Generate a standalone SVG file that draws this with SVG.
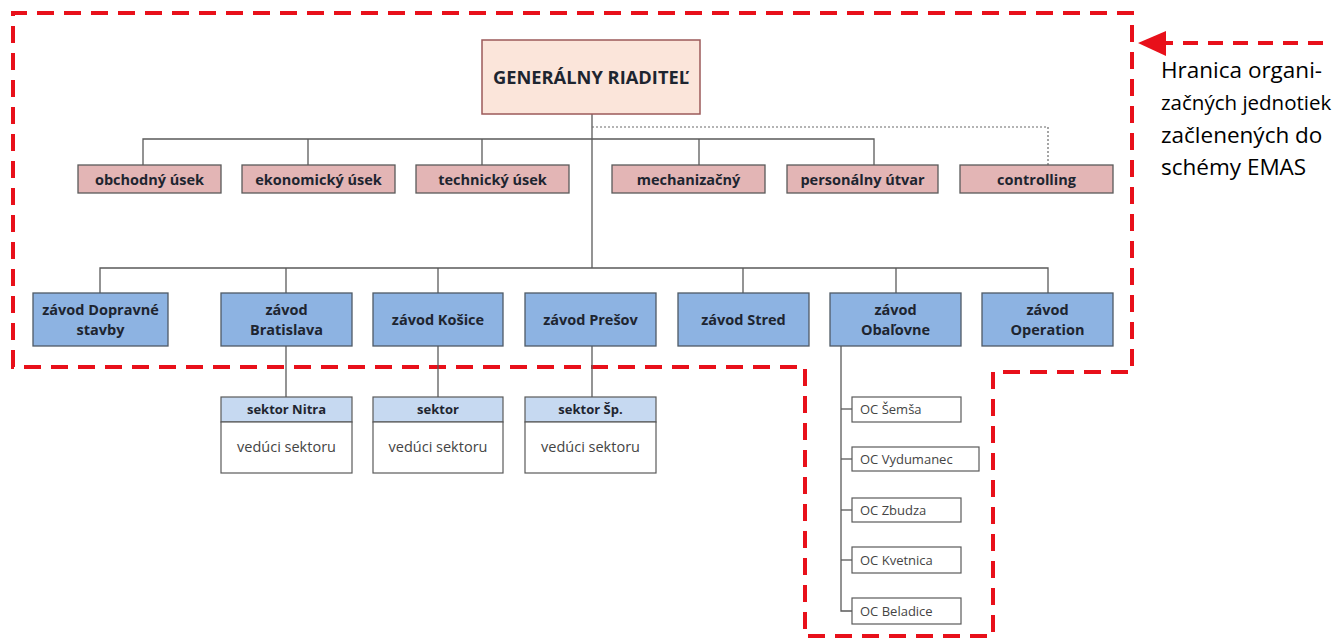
<svg xmlns="http://www.w3.org/2000/svg" width="1341" height="638" viewBox="0 0 1341 638">
<defs>
<style>
.ln{stroke:#5a5a5a;stroke-width:1.3;fill:none}
.dot{stroke:#6a6a6a;stroke-width:1.2;fill:none;stroke-dasharray:2 2}
.red{stroke:#e8101a;stroke-width:4;fill:none;stroke-dasharray:17 10}
.gr{fill:#fbe5da;stroke:#9c5a5a;stroke-width:1.5}
.sec{fill:#e3b5b5;stroke:#5a5a5a;stroke-width:1.3}
.pl{fill:#8db3e2;stroke:#4f5a66;stroke-width:1.3}
.hd{fill:#c6d9f1;stroke:#5a5a5a;stroke-width:1.2}
.bd{fill:#fff;stroke:#5a5a5a;stroke-width:1.2}
.oc{fill:#fff;stroke:#5a5a5a;stroke-width:1.2}
text{font-family:"Open Sans","Liberation Sans",sans-serif;fill:#222}
.b{font-weight:bold;font-size:14.5px;text-anchor:middle;fill:#1e2530}
.r{font-size:14.5px;text-anchor:middle;fill:#444}
.s{font-size:13px;fill:#444}
.note{font-size:22.5px;fill:#000}
</style>
</defs>
<g id="boundary">
<path class="red" d="M13,367 V13 H1132 V372 H993 V636 H805 V367 Z"/>
</g>
<g id="arrow-note">
<line x1="1323" y1="43" x2="1166" y2="43" stroke="#e8101a" stroke-width="4" stroke-dasharray="15 10"/>
<polygon points="1138,43 1166,31 1166,56" fill="#e8101a"/>
<text class="note" x="1161" y="78">Hranica organi-</text>
<text class="note" x="1161" y="110" style="font-size:20.5px">začných jednotiek</text>
<text class="note" x="1161" y="143">začlenených do</text>
<text class="note" x="1161" y="175">schémy EMAS</text>
</g>
<g id="connectors">
<line class="ln" x1="592" y1="114" x2="592" y2="268"/>
<polyline class="ln" points="143,165 143,139 874,139 874,165"/>
<line class="ln" x1="308" y1="139" x2="308" y2="165"/>
<line class="ln" x1="482" y1="139" x2="482" y2="165"/>
<line class="ln" x1="699" y1="139" x2="699" y2="165"/>
<polyline class="dot" points="592,127 1048,127 1048,165"/>
<polyline class="ln" points="100,293 100,268 1048,268 1048,293"/>
<line class="ln" x1="286" y1="268" x2="286" y2="293"/>
<line class="ln" x1="438" y1="268" x2="438" y2="293"/>
<line class="ln" x1="743" y1="268" x2="743" y2="293"/>
<line class="ln" x1="896" y1="268" x2="896" y2="293"/>
<line class="ln" x1="286" y1="346" x2="286" y2="397"/>
<line class="ln" x1="438" y1="346" x2="438" y2="397"/>
<line class="ln" x1="592" y1="346" x2="592" y2="397"/>
<polyline class="ln" points="841,346 841,611 852,611"/>
<line class="ln" x1="841" y1="409" x2="852" y2="409"/>
<line class="ln" x1="841" y1="459" x2="852" y2="459"/>
<line class="ln" x1="841" y1="510" x2="852" y2="510"/>
<line class="ln" x1="841" y1="560" x2="852" y2="560"/>
</g>
<g id="gr"><rect class="gr" x="482" y="40" width="218" height="74"/><text class="b" x="591" y="84" style="font-size:18.3px">GENERÁLNY RIADITEĽ</text></g>
<g id="obchodny"><rect class="sec" x="78" y="165" width="143" height="28"/><text class="b" x="149.5" y="184.5">obchodný úsek</text></g>
<g id="ekonomicky"><rect class="sec" x="242" y="165" width="153" height="28"/><text class="b" x="318.5" y="184.5">ekonomický úsek</text></g>
<g id="technicky"><rect class="sec" x="416" y="165" width="153" height="28"/><text class="b" x="492.5" y="184.5">technický úsek</text></g>
<g id="mechanizacny"><rect class="sec" x="612" y="165" width="153" height="28"/><text class="b" x="688.5" y="184.5">mechanizačný</text></g>
<g id="personalny"><rect class="sec" x="787" y="165" width="151" height="28"/><text class="b" x="862.5" y="184.5">personálny útvar</text></g>
<g id="controlling"><rect class="sec" x="960" y="165" width="153" height="28"/><text class="b" x="1036.5" y="184.5">controlling</text></g>
<g id="dopravne"><rect class="pl" x="33" y="293" width="135" height="53"/><text class="b" x="100.5" y="315">závod Dopravné</text><text class="b" x="100.5" y="335">stavby</text></g>
<g id="bratislava"><rect class="pl" x="221" y="293" width="131" height="53"/><text class="b" x="286.5" y="315">závod</text><text class="b" x="286.5" y="335">Bratislava</text></g>
<g id="kosice"><rect class="pl" x="373" y="293" width="130" height="53"/><text class="b" x="438" y="325">závod Košice</text></g>
<g id="presov"><rect class="pl" x="525" y="293" width="131" height="53"/><text class="b" x="590.5" y="325">závod Prešov</text></g>
<g id="stred"><rect class="pl" x="678" y="293" width="131" height="53"/><text class="b" x="743.5" y="325">závod Stred</text></g>
<g id="obalovne"><rect class="pl" x="830" y="293" width="131" height="53"/><text class="b" x="895.5" y="315">závod</text><text class="b" x="895.5" y="335">Obaľovne</text></g>
<g id="operation"><rect class="pl" x="982" y="293" width="131" height="53"/><text class="b" x="1047.5" y="315">závod</text><text class="b" x="1047.5" y="335">Operation</text></g>
<g id="nitra"><rect class="hd" x="221" y="397" width="131" height="25"/><rect class="bd" x="221" y="422" width="131" height="51"/><text class="b" x="286.5" y="414" style="font-size:13px">sektor Nitra</text><text class="r" x="286.5" y="452">vedúci sektoru</text></g>
<g id="sektor"><rect class="hd" x="373" y="397" width="130" height="25"/><rect class="bd" x="373" y="422" width="130" height="51"/><text class="b" x="438" y="414" style="font-size:13px">sektor</text><text class="r" x="438" y="452">vedúci sektoru</text></g>
<g id="sektor-sp"><rect class="hd" x="525" y="397" width="131" height="25"/><rect class="bd" x="525" y="422" width="131" height="51"/><text class="b" x="590.5" y="414" style="font-size:13px">sektor Šp.</text><text class="r" x="590.5" y="452">vedúci sektoru</text></g>
<g id="semsa"><rect class="oc" x="852" y="397" width="109" height="25"/><text class="s" x="860" y="414">OC Šemša</text></g>
<g id="vydumanec"><rect class="oc" x="852" y="447" width="127" height="24"/><text class="s" x="860" y="464">OC Vydumanec</text></g>
<g id="zbudza"><rect class="oc" x="852" y="498" width="109" height="24"/><text class="s" x="860" y="515">OC Zbudza</text></g>
<g id="kvetnica"><rect class="oc" x="852" y="547" width="109" height="26"/><text class="s" x="860" y="565">OC Kvetnica</text></g>
<g id="beladice"><rect class="oc" x="852" y="598" width="109" height="26"/><text class="s" x="860" y="616">OC Beladice</text></g>
</svg>
